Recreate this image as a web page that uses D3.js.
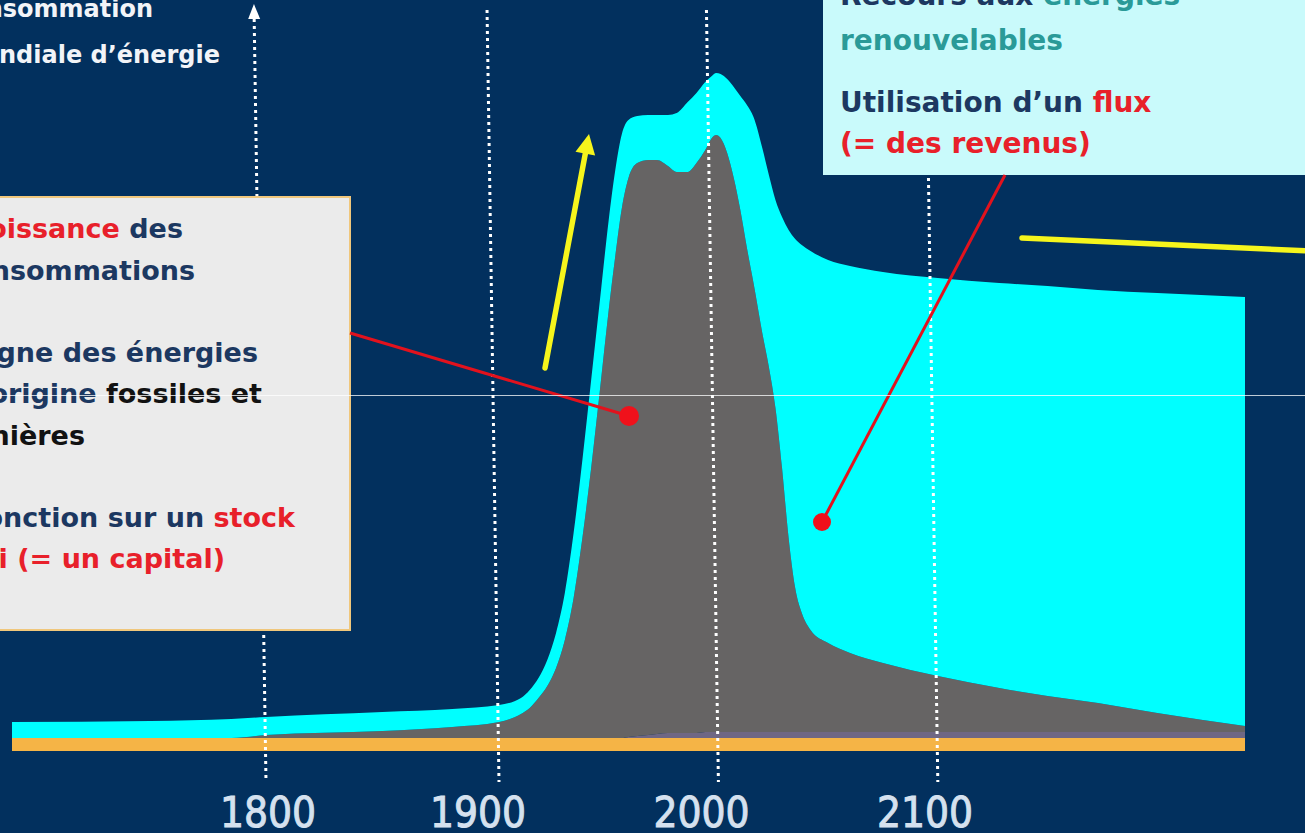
<!DOCTYPE html>
<html>
<head>
<meta charset="utf-8">
<script src="https://cdn.jsdelivr.net/npm/d3@7"></script>
<style>
  body { margin: 0; background: #02305e; }
  svg { display: block; }
</style>
</head>
<body>
<svg id="chart" width="1305" height="833"></svg>
<script>
// --- données (unités arbitraires) ---
const years = [1690, 1750, 1785, 1800, 1850, 1880, 1900, 1910, 1914, 1918, 1922, 1926, 1930, 1934, 1938, 1942,
  1946, 1950, 1953, 1956, 1959, 1963, 1968, 1972, 1977, 1981, 1986, 1990, 1994, 1997, 1999, 2001, 2004, 2007,
  2010, 2013, 2016, 2020, 2023, 2026, 2029, 2032, 2035, 2038, 2042, 2050, 2060, 2075, 2100, 2128, 2150, 2173,
  2200, 2240];
const nuclear = [0, 0, 0, 0, 0, 0, 0, 0, 0, 0, 0, 0, 0, 0, 0, 0, 0, 0, 0, 0, 1, 2, 3, 4, 5, 5, 5, 5, 6, 6, 6, 6,
  6, 6, 6, 6, 6, 6, 6, 6, 6, 6, 6, 6, 6, 6, 6, 6, 6, 6, 6, 6, 6, 6];
const fossil = [0, 0, 0, 3, 7, 11, 16, 24, 30, 40, 52, 70, 98, 140, 200, 270, 348, 428, 482, 530, 559, 573, 575,
  574, 567, 561, 561, 570, 582, 594, 597, 594, 579, 554, 522, 484, 449, 399, 365, 324, 264, 194, 144, 119, 102,
  89, 79, 69, 56, 44, 36, 29, 19, 6];
const renewables = [16, 17, 19, 18, 19, 18, 17, 16, 18, 20, 26, 35, 47, 65, 78, 88, 90, 90, 86, 74, 58, 47, 45,
  45, 51, 59, 70, 70, 68, 62, 62, 64, 74, 91, 114, 143, 166, 185, 192, 208, 251, 308, 349, 368, 379, 383, 387,
  391, 398, 405, 410, 413, 420, 429];
const gridYears = [1800, 1900, 2000, 2100];
const tickLabels = ['1800', '1900', '2000', '2100'];

const W = 1305, H = 833;
const FONT = '"DejaVu Sans", sans-serif';
const NAVY = '#1c3861', RED = '#e8202a', TEAL = '#2a9a98';
const SKEW = 0.0155; // la diapo est légèrement penchée

const svg = d3.select('#chart');
svg.append('rect').attr('width', W).attr('height', H).attr('fill', '#02305e');

// --- échelles ---
const x = d3.scaleLinear().domain([1690, 1800, 1900, 2240]).range([12, 266, 499, 1245]);
const y = d3.scaleLinear().domain([0, 700]).range([738, 38]);
// les étiquettes de la diapo ne sont pas centrées sur les pointillés
const xLabel = d3.scaleLinear().domain([1800, 1900, 2100]).range([268, 478, 925]);

// --- aires empilées ---
const table = years.map((yr, i) => ({ year: yr, nuclear: nuclear[i], fossil: fossil[i], renewables: renewables[i] }));
const series = d3.stack().keys(['nuclear', 'fossil', 'renewables'])(table);
const colors = { nuclear: '#6f6784', fossil: '#666464', renewables: '#00ffff' };

const area = d3.area()
  .x(d => x(d.data.year))
  .y0(d => y(d[0]))
  .y1(d => y(d[1]))
  .curve(d3.curveMonotoneX);

svg.append('g').selectAll('path')
  .data(series)
  .join('path')
  .attr('fill', d => colors[d.key])
  .attr('d', area);

// bande orange = axe des temps
svg.append('rect')
  .attr('x', x(1690)).attr('y', y(0))
  .attr('width', x(2240) - x(1690)).attr('height', 13)
  .attr('fill', '#f5b446');

// --- lignes pointillées (légèrement inclinées comme sur la diapo) ---
const angle = Math.atan(SKEW) * 180 / Math.PI;
const grid = svg.append('g').attr('transform', `translate(${-SKEW * 782},0) skewX(${angle})`);
grid.selectAll('line')
  .data(gridYears)
  .join('line')
  .attr('x1', d => x(d)).attr('x2', d => x(d))
  .attr('y1', d => d === 1800 ? 19 : 10).attr('y2', 782)
  .attr('stroke', '#ffffff').attr('stroke-width', 3)
  .attr('stroke-dasharray', '3,4');
// flèche de l'axe vertical
grid.append('path')
  .attr('d', `M${x(1800) - 6},19 L${x(1800)},4 L${x(1800) + 6},19 Z`)
  .attr('fill', '#ffffff');

svg.append('g').selectAll('text')
  .data(gridYears)
  .join('text')
  .attr('x', d => xLabel(d)).attr('y', 827)
  .attr('text-anchor', 'middle')
  .attr('font-family', '"DejaVu Sans Condensed", "DejaVu Sans", sans-serif').attr('font-size', 42)
  .attr('fill', '#d5e1ef').attr('stroke', '#d5e1ef').attr('stroke-width', 0.9)
  .text((d, i) => tickLabels[i]);

// --- titre de l'axe (coupé à gauche) ---
const title = svg.append('g').attr('font-family', FONT).attr('font-weight', 'bold')
  .attr('font-size', 24).attr('fill', '#f2f4f8').attr('text-anchor', 'end');
title.append('text').attr('x', 153).attr('y', 17).text('Consommation');
title.append('text').attr('x', 220).attr('y', 63).text('mondiale d’énergie');

// --- flèches jaunes ---
function arrow(x1, y1, x2, y2) {
  const dx = x2 - x1, dy = y2 - y1, len = Math.hypot(dx, dy);
  const ux = dx / len, uy = dy / len, nx = -uy, ny = ux;
  const hl = 20, hw = 10;
  const bx = x2 - ux * hl, by = y2 - uy * hl;
  svg.append('line').attr('x1', x1).attr('y1', y1).attr('x2', bx + ux * 2).attr('y2', by + uy * 2)
    .attr('stroke', '#f6f51c').attr('stroke-width', 5.5).attr('stroke-linecap', 'round');
  svg.append('path')
    .attr('d', `M${x2},${y2} L${bx + nx * hw},${by + ny * hw} L${bx - nx * hw},${by - ny * hw} Z`)
    .attr('fill', '#f6f51c');
}
arrow(545, 368, 589, 134);
arrow(1022, 238, 1330, 252);

// --- encadré gauche ---
svg.append('rect')
  .attr('x', -10).attr('y', 197).attr('width', 360).attr('height', 433)
  .attr('fill', '#ebebeb')
  .attr('stroke', '#f0c77c').attr('stroke-width', 2);

const left = svg.append('g').attr('font-family', FONT).attr('font-weight', 'bold')
  .attr('font-size', 27).attr('text-anchor', 'end');
const leftLines = [
  { y: 238, x: 183, parts: [['Croissance ', RED], ['des', NAVY]] },
  { y: 280, x: 195, parts: [['consommations', NAVY]] },
  { y: 362, x: 258, parts: [['Règne des énergies', NAVY]] },
  { y: 403, x: 262, parts: [['d’origine ', NAVY], ['fossiles et', '#121212']] },
  { y: 445, x: 85, parts: [['minières', '#121212']] },
  { y: 527, x: 295, parts: [['Ponction sur un ', NAVY], ['stock', RED]] },
  { y: 568, x: 225, parts: [['fini (= un capital)', RED]] },
];
leftLines.forEach(l => {
  const t = left.append('text').attr('x', l.x).attr('y', l.y);
  l.parts.forEach(p => t.append('tspan').attr('fill', p[1]).text(p[0]));
});

// --- encadré droit ---
svg.append('rect')
  .attr('x', 823).attr('y', -10).attr('width', 500).attr('height', 185)
  .attr('fill', '#c9fafb');

const right = svg.append('g').attr('font-family', FONT).attr('font-weight', 'bold').attr('font-size', 28);
const rightLines = [
  { y: 5, parts: [['Recours aux ', NAVY], ['énergies', TEAL]] },
  { y: 50, parts: [['renouvelables', TEAL]] },
  { y: 112, parts: [['Utilisation d’un ', NAVY], ['flux', RED]] },
  { y: 153, parts: [['(= des revenus)', RED]] },
];
rightLines.forEach(l => {
  const t = right.append('text').attr('x', 840).attr('y', l.y);
  l.parts.forEach(p => t.append('tspan').attr('fill', p[1]).text(p[0]));
});

// --- renvois rouges ---
const pointers = [
  { from: [350, 333], to: [629, 416], r: 10 },
  { from: [1005, 175], to: [822, 522], r: 9 },
];
pointers.forEach(p => {
  svg.append('line')
    .attr('x1', p.from[0]).attr('y1', p.from[1]).attr('x2', p.to[0]).attr('y2', p.to[1])
    .attr('stroke', '#e2121d').attr('stroke-width', 3);
  svg.append('circle').attr('cx', p.to[0]).attr('cy', p.to[1]).attr('r', p.r).attr('fill', '#f0111b');
});

// fine ligne claire qui traverse l'image
svg.append('line')
  .attr('x1', 0).attr('x2', W).attr('y1', 395.5).attr('y2', 395.5)
  .attr('stroke', '#ffffff').attr('stroke-opacity', 0.75).attr('stroke-width', 1);
</script>
</body>
</html>
